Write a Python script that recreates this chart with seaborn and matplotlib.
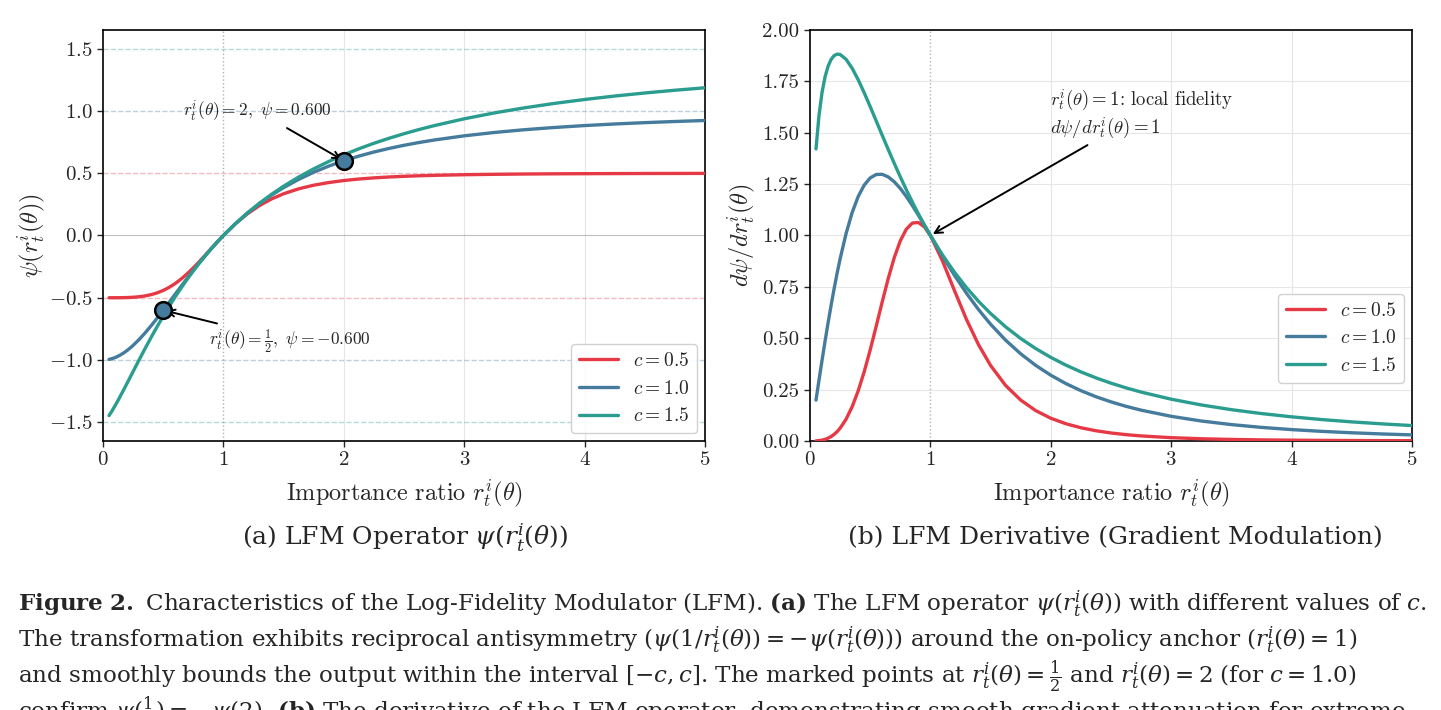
import matplotlib
matplotlib.use("Agg")
import matplotlib.pyplot as plt
import seaborn as sns

ratio = [0.05, 0.075, 0.1, 0.125, 0.15, 0.175, 0.2, 0.225, 0.25, 0.3, 0.35, 0.4, 0.45,
         0.5, 0.55, 0.6, 0.65, 0.7, 0.75, 0.8, 0.85, 0.9, 0.95, 1.0, 1.1, 1.2, 1.3,
         1.4, 1.5, 1.625, 1.75, 1.875, 2.0, 2.125, 2.25, 2.375, 2.5, 2.625, 2.75,
         3.0, 3.25, 3.5, 3.75, 4.0, 4.25, 4.5, 4.75, 5.0]

psi_c05 = [-0.5000, -0.5000, -0.4999, -0.4998, -0.4995, -0.4991, -0.4984, -0.4974, -0.4961,
           -0.4920, -0.4852, -0.4750, -0.4606, -0.4412, -0.4162, -0.3853, -0.3485, -0.3064,
           -0.2596, -0.2094, -0.1570, -0.1038, -0.0511, 0.0, 0.0942, 0.1746, 0.2407, 0.2935,
           0.3351, 0.3746, 0.4037, 0.4251, 0.4412, 0.4533, 0.4624, 0.4695, 0.4750, 0.4794,
           0.4828, 0.4878, 0.4911, 0.4934, 0.4950, 0.4961, 0.4969, 0.4976, 0.4980, 0.4984]
psi_c10 = [-0.9950, -0.9888, -0.9802, -0.9692, -0.9560, -0.9406, -0.9231, -0.9036, -0.8824,
           -0.8349, -0.7817, -0.7241, -0.6632, -0.6000, -0.5355, -0.4706, -0.4060, -0.3423,
           -0.2800, -0.2195, -0.1611, -0.1050, -0.0512, 0.0, 0.0950, 0.1803, 0.2565, 0.3243,
           0.3846, 0.4506, 0.5077, 0.5571, 0.6000, 0.6374, 0.6701, 0.6988, 0.7241, 0.7465,
           0.7664, 0.8000, 0.8270, 0.8491, 0.8672, 0.8824, 0.8951, 0.9059, 0.9151, 0.9231]
psi_c15 = [-1.4457, -1.4080, -1.3669, -1.3235, -1.2786, -1.2325, -1.1859, -1.1389, -1.0918,
           -0.9983, -0.9064, -0.8171, -0.7307, -0.6477, -0.5681, -0.4919, -0.4193, -0.3501,
           -0.2842, -0.2215, -0.1619, -0.1052, -0.0513, 0.0, 0.0952, 0.1814, 0.2597, 0.3309,
           0.3959, 0.4692, 0.5350, 0.5942, 0.6477, 0.6961, 0.7402, 0.7804, 0.8171, 0.8508,
           0.8818, 0.9368, 0.9840, 1.0249, 1.0605, 1.0918, 1.1195, 1.1441, 1.1661, 1.1859]

dpsi_c05 = [0.0005, 0.0017, 0.0040, 0.0078, 0.0135, 0.0214, 0.0319, 0.0453, 0.0620, 0.1063,
            0.1665, 0.2434, 0.3364, 0.4429, 0.5586, 0.6771, 0.7909, 0.8922, 0.9738, 1.0307,
            1.0604, 1.0632, 1.0416, 1.0, 0.8768, 0.7317, 0.5910, 0.4682, 0.3673, 0.2700,
            0.1990, 0.1477, 0.1107, 0.0839, 0.0643, 0.0498, 0.0389, 0.0308, 0.0246, 0.0161,
            0.0108, 0.0075, 0.0053, 0.0039, 0.0029, 0.0022, 0.0017, 0.0013]
dpsi_c10 = [0.1990, 0.2967, 0.3921, 0.4847, 0.5739, 0.6590, 0.7396, 0.8154, 0.8858, 1.0100,
            1.1111, 1.1891, 1.2448, 1.2800, 1.2968, 1.2976, 1.2849, 1.2612, 1.2288, 1.1898,
            1.1459, 1.0989, 1.0499, 1.0, 0.9009, 0.8062, 0.7186, 0.6392, 0.5680, 0.4904,
            0.4241, 0.3678, 0.3200, 0.2794, 0.2449, 0.2154, 0.1903, 0.1686, 0.1500, 0.1200,
            0.0972, 0.0797, 0.0661, 0.0554, 0.0468, 0.0399, 0.0342, 0.0296]
dpsi_c15 = [1.4212, 1.5848, 1.6956, 1.7716, 1.8232, 1.8562, 1.8750, 1.8824, 1.8808, 1.8570,
            1.8138, 1.7582, 1.6948, 1.6271, 1.5574, 1.4874, 1.4182, 1.3507, 1.2855, 1.2227,
            1.1628, 1.1056, 1.0514, 1.0, 0.9054, 0.8211, 0.7462, 0.6795, 0.6202, 0.5552,
            0.4987, 0.4496, 0.4068, 0.3692, 0.3362, 0.3071, 0.2813, 0.2584, 0.2380, 0.2033,
            0.1753, 0.1523, 0.1334, 0.1175, 0.1042, 0.0929, 0.0833, 0.0750]

c_values = [0.5, 1.0, 1.5]
c_labels = [r"$c = 0.5$", r"$c = 1.0$", r"$c = 1.5$"]
colors = ["#E63946", "#457B9D", "#2A9D8F"]

marked_r = [0.5, 2.0]
marked_psi = [-0.600, 0.600]

sns.set_style("white")
plt.rcParams["font.family"] = ["cmr10", "DejaVu Serif"]
plt.rcParams["mathtext.fontset"] = "cm"
plt.rcParams["axes.formatter.use_mathtext"] = True
plt.rcParams["axes.unicode_minus"] = True

fig = plt.figure(figsize=(14.41, 7.10), dpi=100)
ax1 = fig.add_axes([0.0715, 0.3789, 0.4178, 0.5789])
ax2 = fig.add_axes([0.5621, 0.3789, 0.4178, 0.5789])

grid_kw = dict(color="#e6e6e6", lw=0.8, zorder=0)

# ---------------- (a) operator ----------------
for c, col in zip(c_values, colors):
    for s in (1, -1):
        ax1.axhline(s * c, color=col, ls="--", lw=1.0, alpha=0.35, zorder=1)
ax1.axhline(0, color="gray", lw=0.8, alpha=0.5, zorder=1)
ax1.axvline(1, color="gray", ls=":", lw=1.0, alpha=0.6, zorder=1)
for x in [2, 3, 4]:
    ax1.axvline(x, **grid_kw)

for ys, col, lab in zip([psi_c05, psi_c10, psi_c15], colors, c_labels):
    sns.lineplot(x=ratio, y=ys, color=col, lw=2.4, label=lab, ax=ax1, zorder=3)

ax1.plot(marked_r, marked_psi, "o", ms=12, mfc="#457B9D", mec="black", mew=1.8, zorder=5)
ax1.annotate(r"$r_t^i(\theta) = 2,\ \psi = 0.600$", xy=(marked_r[1], marked_psi[1]),
             xytext=(1.28, 1.0), ha="center", va="center", fontsize=12.5,
             arrowprops=dict(arrowstyle="->", color="black", lw=1.4))
ax1.annotate(r"$r_t^i(\theta) = \frac{1}{2},\ \psi = -0.600$", xy=(marked_r[0], marked_psi[0]),
             xytext=(1.55, -0.85), ha="center", va="center", fontsize=12.5,
             arrowprops=dict(arrowstyle="->", color="black", lw=1.4))

ax1.set_xlim(0, 5)
ax1.set_ylim(-1.65, 1.65)
ax1.set_yticks([-1.5, -1.0, -0.5, 0.0, 0.5, 1.0, 1.5])
ax1.set_xlabel(r"Importance ratio $r_t^i(\theta)$", fontsize=17.5, labelpad=6)
ax1.set_ylabel(r"$\psi(r_t^i(\theta))$", fontsize=17.5, labelpad=1)
ax1.legend(loc="lower right", fontsize=14, frameon=True, framealpha=0.9,
           edgecolor="#cccccc", handlelength=2.0, borderaxespad=0.4)

# ---------------- (b) derivative ----------------
for y in [0.25, 0.5, 0.75, 1.0, 1.25, 1.5, 1.75]:
    ax2.axhline(y, **grid_kw)
for x in [2, 3, 4]:
    ax2.axvline(x, **grid_kw)
ax2.axvline(1, color="gray", ls=":", lw=1.0, alpha=0.6, zorder=1)

for ys, col, lab in zip([dpsi_c05, dpsi_c10, dpsi_c15], colors, c_labels):
    sns.lineplot(x=ratio, y=ys, color=col, lw=2.4, label=lab, ax=ax2, zorder=3)

ax2.annotate("$r_t^i(\\theta) = 1$: local fidelity\n$d\\psi/dr_t^i(\\theta) = 1$",
             xy=(1.0, 1.0), xytext=(1.99, 1.59), ha="left", va="center", fontsize=13.5,
             arrowprops=dict(arrowstyle="->", color="black", lw=1.4))

ax2.set_xlim(0, 5)
ax2.set_ylim(0, 2.0)
ax2.set_yticks([0.0, 0.25, 0.5, 0.75, 1.0, 1.25, 1.5, 1.75, 2.0])
ax2.set_yticklabels(["0.00", "0.25", "0.50", "0.75", "1.00", "1.25", "1.50", "1.75", "2.00"])
ax2.set_xlabel(r"Importance ratio $r_t^i(\theta)$", fontsize=17.5, labelpad=6)
ax2.set_ylabel(r"$d\psi/dr_t^i(\theta)$", fontsize=17.5, labelpad=4)
ax2.legend(loc="center right", bbox_to_anchor=(1.0, 0.25), fontsize=14, frameon=True,
           framealpha=0.9, edgecolor="#cccccc", handlelength=2.0, borderaxespad=0.4)

for ax in (ax1, ax2):
    ax.set_xticks([0, 1, 2, 3, 4, 5])
    ax.tick_params(direction="out", length=4, width=1, labelsize=15, left=True, bottom=True)
    for sp in ax.spines.values():
        sp.set_color("black")
        sp.set_linewidth(1.2)
    ax.set_facecolor("white")

# ---------------- captions ----------------
cap_kw = dict(family=["DejaVu Serif"], math_fontfamily="dejavuserif")
fig.text(405 / 1441, 1 - 538 / 710, r"(a) LFM Operator $\psi(r_t^i(\theta))$",
         ha="center", va="center", fontsize=18, **cap_kw)
fig.text(1115 / 1441, 1 - 538 / 710, "(b) LFM Derivative (Gradient Modulation)",
         ha="center", va="center", fontsize=18, **cap_kw)

caption_lines = [
    r"$\mathbf{Figure\ 2.}$ Characteristics of the Log-Fidelity Modulator (LFM). $\mathbf{(a)}$ The LFM operator $\psi(r_t^i(\theta))$ with different values of $c$.",
    r"The transformation exhibits reciprocal antisymmetry $(\psi(1/r_t^i(\theta)) = -\psi(r_t^i(\theta)))$ around the on-policy anchor $(r_t^i(\theta) = 1)$",
    r"and smoothly bounds the output within the interval $[-c, c]$. The marked points at $r_t^i(\theta) = \frac{1}{2}$ and $r_t^i(\theta) = 2$ (for $c = 1.0$)",
    r"confirm $\psi(\frac{1}{2}) = -\psi(2)$. $\mathbf{(b)}$ The derivative of the LFM operator, demonstrating smooth gradient attenuation for extreme",
]
baselines = [611, 647, 683, 719]
for line, yb in zip(caption_lines, baselines):
    fig.text(18 / 1441, 1 - yb / 710, line, ha="left", va="baseline", fontsize=16.6, **cap_kw)

fig.savefig("out.png", dpi=100)
